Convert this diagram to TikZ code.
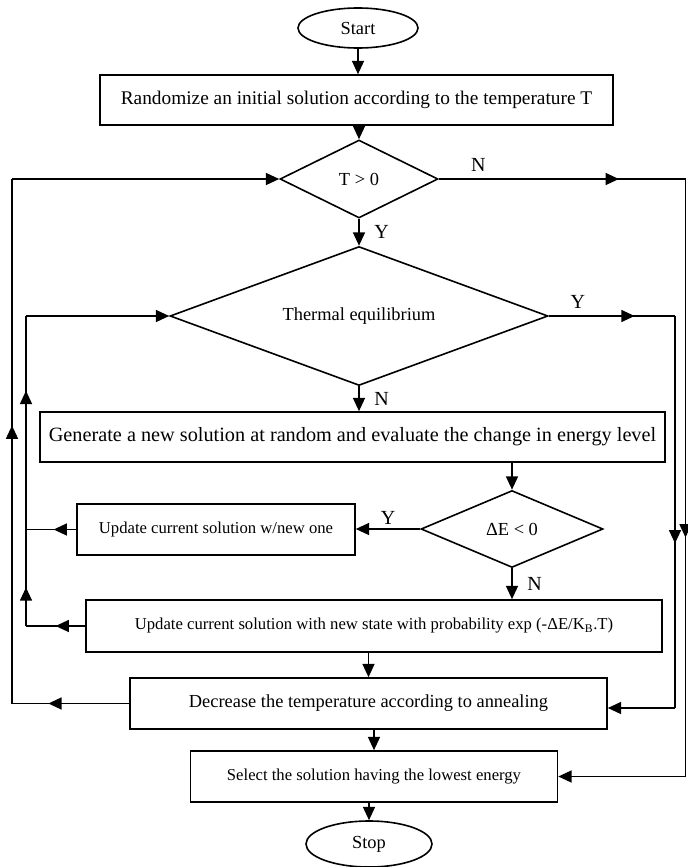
\documentclass[tikz,border=0pt]{standalone}
\usepackage{fontspec}
\setmainfont{Liberation Serif}
\usetikzlibrary{shapes.geometric, arrows.meta, positioning, decorations.markings}

\begin{document}
\begin{tikzpicture}[x=0.75pt, y=-0.75pt, line width=1.2pt,
    box/.style={rectangle, draw, inner sep=0pt, align=center,
                font=\fontsize{13.8}{16}\selectfont},
    decision/.style={diamond, draw, inner sep=0pt, aspect=2,
                font=\fontsize{13.8}{16}\selectfont},
    term/.style={ellipse, draw, inner sep=0pt, font=\fontsize{13.8}{16}\selectfont},
    lbl/.style={font=\fontsize{15}{17}\selectfont, inner sep=3pt},
    arr/.style={-{Triangle[length=10pt, width=9pt]}},
    marr/.style={postaction={decorate}, decoration={markings,
                mark=at position #1 with {\arrow{Triangle[length=10pt, width=9pt]}}}}]

    \useasboundingbox (0,0) rectangle (687,867);

    % Start and initial solution
    \node[term, minimum width=90pt, minimum height=30pt] (start) at (358,28) {Start};
    \node[box, minimum width=384.75pt, minimum height=37.5pt, font=\fontsize{14.5}{17}\selectfont] (init) at (356.5,100)
        {Randomize an initial solution according to the temperature T};

    % Decisions
    \node[decision, minimum width=118.5pt, minimum height=58.5pt] (tpos) at (359,179) {T > 0};
    \node[decision, minimum width=283.5pt, minimum height=104.25pt] (therm) at (359,316) {Thermal equilibrium};

    % Inner loop
    \node[box, minimum width=468.75pt, minimum height=37.5pt, font=\fontsize{15.2}{18}\selectfont] (gen) at (352.5,437)
        {Generate a new solution at random and evaluate the change in energy level};
    \node[decision, minimum width=136.5pt, minimum height=57.75pt] (dE) at (512,529) {ΔE < 0};
    \node[box, minimum width=208.5pt, minimum height=38.25pt, font=\fontsize{12.5}{15}\selectfont] (upd1) at (216,529.5)
        {Update current solution w/new one};
    \node[box, minimum width=432pt, minimum height=39pt, font=\fontsize{12.5}{15}\selectfont] (upd2) at (374,626)
        {Update current solution with new state with probability exp (-ΔE/K\textsubscript{B}.T)};

    % Cooling and end
    \node[box, minimum width=357.75pt, minimum height=38.25pt] (dec) at (368.5,703.5)
        {Decrease the temperature according to annealing};
    \node[box, minimum width=275.25pt, minimum height=38.25pt, font=\fontsize{12.5}{15}\selectfont] (sel) at (374,776.5)
        {Select the solution having the lowest energy};
    \node[term, minimum width=94.5pt, minimum height=34.5pt] (stop) at (369,844) {Stop};

    % Loop corners
    \coordinate (lo1) at (12,703.5);
    \coordinate (lo2) at (12,179);
    \coordinate (il1) at (26,626);
    \coordinate (il2) at (26,529.5);
    \coordinate (il3) at (26,316);
    \coordinate (ro1) at (685.5,179);
    \coordinate (ro2) at (685.5,776.5);
    \coordinate (ri1) at (675,316);
    \coordinate (ri2) at (675,708);

    % Main flow
    \draw[arr] (start) -- (start |- init.north);
    \draw[arr] (init.south -| tpos) -- (tpos);
    \draw[arr] (tpos) -- node[right=8pt, lbl]{Y} (therm);
    \draw[arr] (therm) -- node[right=8pt, lbl]{N} (therm |- gen.north);
    \draw[arr] (gen.south -| dE) -- (dE);
    \draw[arr] (dE.west) -- node[above, lbl]{Y} (dE.west -| upd1.east);
    \draw[arr] (dE) -- node[right=8pt, lbl]{N} (dE |- upd2.north);
    \draw[arr] (upd2.south -| dec) -- (dec);
    \draw[arr] (dec.south -| sel) -- (sel);
    \draw[arr] (sel.south -| stop) -- (stop);

    % Back to T > 0
    \draw[marr=0.69] (dec.west) -- (lo1);
    \draw[marr=0.53] (lo1) -- (lo2);
    \draw[arr] (lo2) -- (tpos.west);

    % Back to thermal equilibrium
    \draw[marr=0.5] (upd2.west) -- (il1);
    \draw[marr=0.45] (upd1.west) -- (il2);
    \draw[marr=0.4] (il1) -- (il2);
    \draw[marr=0.65] (il2) -- (il3);
    \draw[arr] (il3) -- (therm.west);

    % Right side exits
    \draw[marr=0.73] (tpos.east) -- node[pos=0.16, above, lbl, yshift=2pt]{N} (ro1);
    \draw[marr=0.6] (ro1) -- (ro2);
    \draw[arr] (ro2) -- (sel.east);
    \draw[marr=0.68] (therm.east) -- node[pos=0.23, above, lbl, yshift=2pt]{Y} (ri1);
    \draw[marr=0.58] (ri1) -- (ri2);
    \draw[arr] (ri2) -- (ri2 -| dec.east);
\end{tikzpicture}
\end{document}
